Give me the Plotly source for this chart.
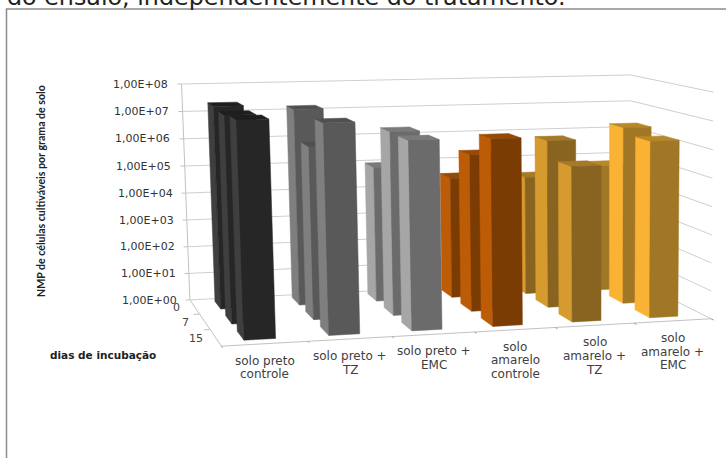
import numpy as np
import plotly.graph_objects as go

# Soil treatments along the front of the box
categories = [
    "solo preto<br>controle",
    "solo preto +<br>TZ",
    "solo preto +<br>EMC",
    "solo<br>amarelo<br>controle",
    "solo<br>amarelo +<br>TZ",
    "solo<br>amarelo +<br>EMC",
]
# Incubation days, back row first
days = ["0", "7", "15"]
# MPN of culturable cells per gram of soil
day_0 = [2.2e7, 1.45e7, 9.3e4, 3.0e4, 2.6e4, 5.7e4]
day_7 = [1.9e7, 1.3e6, 3.6e6, 4.5e5, 1.2e6, 3.0e6]
day_15 = [2.4e7, 1.6e7, 3.5e6, 3.3e6, 3.0e5, 1.9e6]
series = [day_0, day_7, day_15]

tick_powers = [0, 1, 2, 3, 4, 5, 6, 7, 8]
tick_labels = ["1,00E+0%d" % p for p in tick_powers]

# Colours per treatment: front face, left face, top face
front_colors = ["#262626", "#595959", "#6b6b6b", "#7b3c04", "#896320", "#a17624"]
left_colors = ["#3f3f3f", "#7f7f7f", "#a6a6a6", "#bd5c07", "#d59b2e", "#f9b233"]
top_colors = ["#1e1e1e", "#505050", "#7a7a7a", "#964a05", "#a67a26", "#b88827"]

# Perspective camera, solved from where the box corners fall on the page.
# Box coordinates: u along treatments, v from front to back, w up the log scale.
box_corners = [
    ((0, 1, 0), (189, 300)),
    ((0, 1, 1), (182, 84)),
    ((1, 1, 1), (628, 76)),
    ((1, 1, 0), (633, 277)),
    ((0, 0, 0), (222, 346)),
    ((1, 0, 0), (708, 320)),
    ((1, 0, 1), (716, 91)),
]
rows = []
for (u, v, w), (px, py) in box_corners:
    rows.append([u, v, w, 1, 0, 0, 0, 0, -px * u, -px * v, -px * w, -px])
    rows.append([0, 0, 0, 0, u, v, w, 1, -py * u, -py * v, -py * w, -py])
camera = np.linalg.svd(np.array(rows, dtype=float))[2][-1].reshape(3, 4)


def project(u, v, w):
    px, py, d = camera @ np.array([u, v, w, 1.0])
    return px / d, py / d


def polygon(corners):
    pts = [project(*c) for c in corners]
    return [p[0] for p in pts], [p[1] for p in pts]


def line(fig, a, b, color, width=1):
    xs, ys = polygon([a, b])
    fig.add_trace(go.Scatter(x=xs, y=ys, mode="lines", line=dict(color=color, width=width),
                             hoverinfo="skip", showlegend=False))


def face(fig, corners, color, name):
    xs, ys = polygon(corners + corners[:1])
    fig.add_trace(go.Scatter(x=xs, y=ys, mode="lines", fill="toself", fillcolor=color,
                             line=dict(color=color, width=0.5), name=name,
                             hoverinfo="name", showlegend=False))


fig = go.Figure()

GRID = "#cfcfcf"
AXIS = "#c2c2c2"
decades = tick_powers[-1]

# Gridlines on the back wall and the right wall, plus axis ticks
for p in tick_powers:
    w = p / decades
    line(fig, (0, 1, w), (1, 1, w), GRID)
    line(fig, (1, 1, w), (1, 0, w), GRID)
    line(fig, (-0.009, 1, w), (0, 1, w), AXIS)

line(fig, (0, 1, 0), (0, 1, 1), AXIS)
line(fig, (0, 1, 0), (0, 0, 0), AXIS)
line(fig, (0, 0, 0), (1, 0, 0), AXIS)

n_cat = len(categories)
n_day = len(days)
for i in range(n_cat + 1):
    u = i / n_cat
    line(fig, (u, 0, 0), (u, -0.03, 0), "#9a9a9a")
for j in range(1, n_day):
    v = j / n_day
    line(fig, (0, v, 0), (-0.012, v, 0), AXIS)

# Bars, back row first and right to left inside a row so nearer faces cover farther ones
BAR_WIDTH = 0.37 / n_cat
BAR_DEPTH = 0.54 / n_day
BAR_SHIFT = -0.003
for j, values in enumerate(series):
    row_center = 1 - (j + 0.5) / n_day + 0.012
    v0 = row_center - BAR_DEPTH / 2
    v1 = row_center + BAR_DEPTH / 2
    for i in reversed(range(n_cat)):
        w = np.log10(values[i]) / decades
        center = (i + 0.5) / n_cat + BAR_SHIFT
        u0 = center - BAR_WIDTH / 2
        u1 = center + BAR_WIDTH / 2
        label = categories[i].replace("<br>", " ") + ", dia " + days[j]
        face(fig, [(u0, v0, 0), (u0, v1, 0), (u0, v1, w), (u0, v0, w)], left_colors[i], label)
        face(fig, [(u0, v0, w), (u0, v1, w), (u1, v1, w), (u1, v0, w)], top_colors[i], label)
        face(fig, [(u0, v0, 0), (u1, v0, 0), (u1, v0, w), (u0, v0, w)], front_colors[i], label)

annotations = []
TICK_FONT = dict(family="DejaVu Sans", size=11, color="#333333")

for p, text in zip(tick_powers, tick_labels):
    x, y = project(-0.009, 1, p / decades)
    annotations.append(dict(x=x - 7, y=y, text=text, xanchor="right", yanchor="middle",
                            showarrow=False, font=TICK_FONT))

for j, text in enumerate(days):
    x, y = project(0, 1 - (j + 0.5) / n_day, 0)
    annotations.append(dict(x=x - 18 - j, y=y + 1, text=text, xanchor="center", yanchor="middle",
                            showarrow=False, font=dict(family="DejaVu Sans", size=11, color="#444444")))

LINE_STEP = 13.7
for i, text in enumerate(categories):
    x, y = project((i + 0.5) / n_cat, 0, 0)
    for k, part in enumerate(text.split("<br>")):
        annotations.append(dict(x=x, y=y + 17 + k * LINE_STEP, text=part, xanchor="center", yanchor="middle",
                                showarrow=False, font=dict(family="DejaVu Sans", size=12, color="#404040")))

annotations += [
    dict(x=103, y=355, text="<b>dias de incubação</b>", xanchor="center", yanchor="middle",
         showarrow=False, font=dict(family="DejaVu Sans", size=10.5, color="#222222")),
    dict(x=41, y=191, text="<b>NMP de células cultiváveis por grama de solo</b>", textangle=-90,
         xanchor="center", yanchor="middle", showarrow=False,
         font=dict(family="Lato", size=10.6, color="#222222")),
    dict(x=5, y=0, yshift=3, text="do ensaio, independentemente do tratamento.", xanchor="left", yanchor="middle",
         showarrow=False, font=dict(family="DejaVu Sans", size=23.8, color="#222222")),
]

fig.update_layout(
    width=726,
    height=458,
    margin=dict(l=0, r=0, t=0, b=0),
    paper_bgcolor="white",
    plot_bgcolor="white",
    showlegend=False,
    xaxis=dict(range=[0, 726], visible=False, fixedrange=True),
    yaxis=dict(range=[458, 0], visible=False, fixedrange=True),
    annotations=annotations,
    shapes=[dict(type="rect", x0=6.5, y0=9, x1=760, y1=500, line=dict(color="#8c8c8c", width=1.5))],
)

fig.write_html("out.html")
